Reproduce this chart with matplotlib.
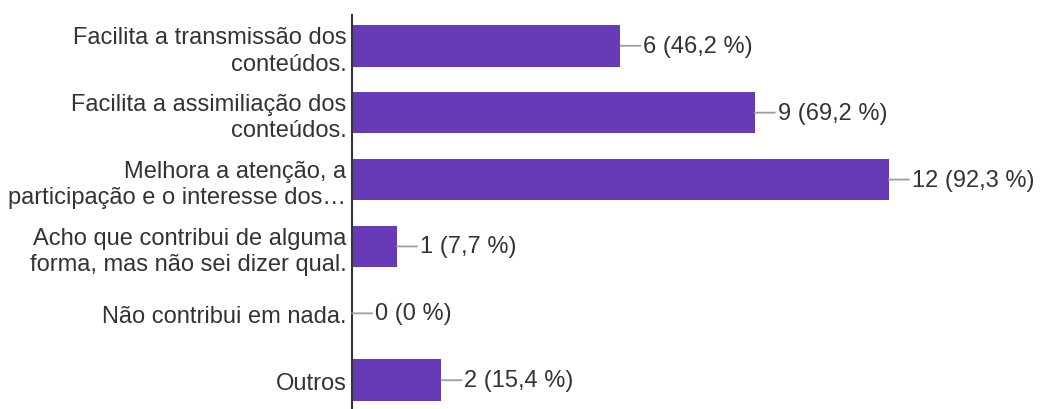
import matplotlib.pyplot as plt

# Respostas: contagem e percentual por opção
labels = [
    "Facilita a transmissão dos\nconteúdos.",
    "Facilita a assimiliação dos\nconteúdos.",
    "Melhora a atenção, a\nparticipação e o interesse dos…",
    "Acho que contribui de alguma\nforma, mas não sei dizer qual.",
    "Não contribui em nada.",
    "Outros",
]
counts = [6, 9, 12, 1, 0, 2]
percents = ["46,2", "69,2", "92,3", "7,7", "0", "15,4"]

plt.rcParams['font.family'] = ['Liberation Sans', 'DejaVu Sans']

fig = plt.figure(figsize=(10.41, 4.10), dpi=100)
ax = fig.add_axes([352 / 1041, 0, 1 - 352 / 1041, 1 - 16 / 410])

ypos = list(range(len(counts)))
ax.barh(ypos, counts, height=0.62, color='#673ab7')

ax.set_xlim(0, 15.4)
ax.set_ylim(5.43, -0.46)

# Valor ao lado de cada barra, ligado por um traço cinza
for y, c, p in zip(ypos, counts, percents):
    ax.annotate(f"{c} ({p} %)", xy=(c, y), xytext=(23, 0),
                textcoords='offset pixels', ha='left', va='center',
                fontsize=17, color='#333333',
                arrowprops=dict(arrowstyle='-', color='#9e9e9e', lw=1.3,
                                shrinkA=0, shrinkB=0, relpos=(0, 0.5)))

ax.set_yticks(ypos)
ax.set_yticklabels(labels, fontsize=17, color='#333333', linespacing=1.25)
ax.tick_params(axis='y', length=0, pad=4)
ax.set_xticks([])

for side in ['top', 'right', 'bottom']:
    ax.spines[side].set_visible(False)
ax.spines['left'].set_color('#333333')
ax.spines['left'].set_linewidth(1.5)

fig.savefig('out.png', dpi=100)
